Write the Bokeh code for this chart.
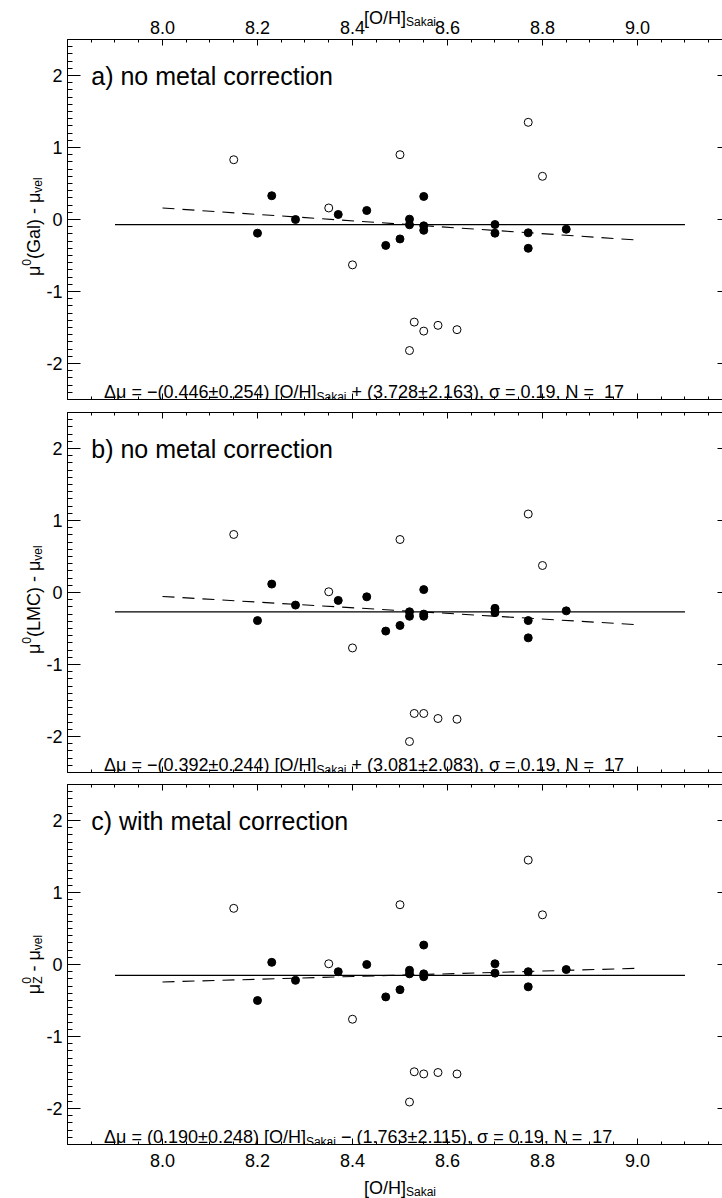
import math
import numpy as np
from bokeh.plotting import figure
from bokeh.models import (Label, LinearAxis, FixedTicker, PrintfTickFormatter, Range1d,
                          CustomJSTickFormatter, GridBox)
from bokeh.embed import file_html
from bokeh.resources import INLINE

# ---------------- data ----------------
x_major_ticks = [8.0, 8.2, 8.4, 8.6, 8.8, 9.0]
y_major_ticks = [-2, -1, 0, 1, 2]

oh_solid = [8.20, 8.23, 8.28, 8.37, 8.43, 8.47, 8.50, 8.52, 8.52, 8.55, 8.55, 8.55,
            8.70, 8.70, 8.77, 8.77, 8.85]
dmu_gal_solid = [-0.19, 0.33, 0.00, 0.07, 0.125, -0.36, -0.27, 0.005, -0.074, 0.32,
                 -0.088, -0.15, -0.07, -0.19, -0.185, -0.40, -0.135]
dmu_lmc_solid = [-0.39, 0.117, -0.175, -0.11, -0.06, -0.536, -0.458, -0.268, -0.33, 0.04,
                 -0.30, -0.33, -0.22, -0.28, -0.39, -0.63, -0.255]
dmu_z_solid = [-0.50, 0.03, -0.22, -0.10, 0.00, -0.45, -0.35, -0.08, -0.13, 0.27,
               -0.13, -0.17, 0.01, -0.12, -0.10, -0.31, -0.07]

oh_open = [8.15, 8.35, 8.40, 8.50, 8.77, 8.80, 8.52, 8.53, 8.55, 8.58, 8.62]
dmu_gal_open = [0.83, 0.16, -0.63, 0.90, 1.35, 0.60, -1.82, -1.425, -1.55, -1.47, -1.53]
dmu_lmc_open = [0.806, 0.01, -0.77, 0.736, 1.09, 0.375, -2.07, -1.68, -1.68, -1.75, -1.76]
dmu_z_open = [0.78, 0.01, -0.76, 0.83, 1.45, 0.69, -1.91, -1.49, -1.52, -1.50, -1.52]

mean_x = [7.9, 9.1]
mean_level = [-0.07, -0.27, -0.15]
fit_x = [8.0, 9.0]
fit_y = [[0.160, -0.286], [-0.055, -0.447], [-0.243, -0.053]]

NB = "\u00a0"
panel_titles = ["a) no metal correction", "b) no metal correction", "c) with metal correction"]
eq_main = ["\u0394\u03bc = \u2212(0.446\u00b10.254) [O/H]",
           "\u0394\u03bc = \u2212(0.392\u00b10.244) [O/H]",
           "\u0394\u03bc = (0.190\u00b10.248) [O/H]"]
eq_sub = "Sakai"
eq_tail = [NB + "+ (3.728\u00b12.163), \u03c3 = 0.19, N =" + NB + NB + "17",
           NB + "+ (3.081\u00b12.083), \u03c3 = 0.19, N =" + NB + NB + "17",
           NB + "\u2212 (1.763\u00b12.115), \u03c3 = 0.19, N =" + NB + NB + "17"]
ytitles = [
    [("\u03bc", "main"), ("0", "sup"), ("(Gal) - \u03bc", "main"), ("vel", "sub")],
    [("\u03bc", "main"), ("0", "sup"), ("(LMC) - \u03bc", "main"), ("vel", "sub")],
    [("\u03bc", "main"), (("0", "Z"), "supsub"), (NB + "- \u03bc", "main"), ("vel", "sub")],
]
ytitle_center = [-0.1, -0.1, 0.0]
xtitle_main = "[O/H]"
xtitle_sub = "Sakai"

# ---------------- styling / layout ----------------
FONT = "Liberation Sans"
X0, X1 = 7.8, 9.179
Y0, Y1 = -2.5, 2.5
PAGE_W, PAGE_H = 722, 1198
LEFT = 67
heights = [405, 373, 420]
tops = [39, 7, 6]
bottoms = [6, 6, 54]
FRAME_H = 360
minor_x = [round(v, 3) for v in np.arange(7.8, 9.2001, 0.05)]
minor_y = [round(v, 2) for v in np.arange(-2.5, 2.5001, 0.1)]

W = {' ': 278, '\u00a0': 278, '0': 556, '1': 556, '2': 556, '3': 556, '4': 556, '5': 556,
     '6': 556, '7': 556, '8': 556, '9': 556, '.': 278, ',': 278, '(': 333, ')': 333,
     '[': 278, ']': 278, '/': 278, '=': 584, '+': 584, '\u2212': 584, '-': 333,
     '\u00b1': 549, '\u0394': 668, '\u03bc': 576, '\u03c3': 617, 'O': 778, 'H': 722,
     'S': 667, 'a': 556, 'k': 500, 'i': 222, 'N': 722, 'G': 778, 'l': 222, 'L': 556,
     'M': 833, 'C': 722, 'v': 500, 'e': 556, 'Z': 611}


def tw(s, size):
    return sum(W.get(c, 556) for c in s) * size / 1000.0


def lab(p, x, y, text, size, xo=0, yo=0, angle=0, align="left"):
    p.add_layout(Label(x=x, y=y, x_offset=xo, y_offset=yo, text=text, angle=angle,
                       text_font=FONT, text_font_size=f"{size}px", text_color="black",
                       text_align=align, text_baseline="alphabetic"))


def blank_labels(ax):
    ax.formatter = CustomJSTickFormatter(code="return ''")
    ax.major_label_text_font_size = "0px"
    ax.major_label_standoff = 0


def x_axis(p, place, labels, standoff=0):
    ax = LinearAxis(ticker=FixedTicker(ticks=x_major_ticks, minor_ticks=minor_x),
                    formatter=PrintfTickFormatter(format="%.1f"))
    ax.major_tick_in = 6
    ax.major_tick_out = 0
    ax.minor_tick_in = 3
    ax.minor_tick_out = 0
    ax.axis_line_color = "black"
    ax.major_tick_line_color = "black"
    ax.minor_tick_line_color = "black"
    if labels:
        ax.major_label_text_font = FONT
        ax.major_label_text_font_size = "18px"
        ax.major_label_text_color = "black"
        ax.major_label_standoff = standoff
    else:
        blank_labels(ax)
    p.add_layout(ax, place)


def y_axes(p):
    ax = LinearAxis(ticker=FixedTicker(ticks=y_major_ticks, minor_ticks=minor_y),
                    formatter=PrintfTickFormatter(format="%d"))
    ax.major_tick_in = 13
    ax.major_tick_out = 0
    ax.minor_tick_in = 5
    ax.minor_tick_out = 0
    ax.axis_line_color = "black"
    ax.major_tick_line_color = "black"
    ax.minor_tick_line_color = "black"
    ax.major_label_text_font = FONT
    ax.major_label_text_font_size = "18px"
    ax.major_label_text_color = "black"
    ax.major_label_standoff = 5
    p.add_layout(ax, "left")
    ar = LinearAxis(ticker=FixedTicker(ticks=y_major_ticks, minor_ticks=[]))
    ar.major_tick_in = 5
    ar.major_tick_out = 0
    ar.minor_tick_in = 0
    ar.minor_tick_out = 0
    ar.axis_line_color = None
    ar.major_tick_line_color = "black"
    blank_labels(ar)
    p.add_layout(ar, "right")


def make_panel(i, ys, yo):
    p = figure(width=PAGE_W, height=heights[i], x_range=Range1d(X0, X1), y_range=Range1d(Y0, Y1),
               output_backend="svg", toolbar_location=None,
               x_axis_location=None, y_axis_location=None,
               min_border_left=LEFT, min_border_right=0,
               min_border_top=tops[i], min_border_bottom=bottoms[i])
    p.grid.visible = False
    p.outline_line_color = None
    p.background_fill_color = "white"
    p.border_fill_color = "white"
    p.frame_align = False

    x_axis(p, "above", i == 0, standoff=6)
    x_axis(p, "below", i == 2, standoff=9)
    y_axes(p)

    p.line(mean_x, [mean_level[i]] * 2, line_color="black", line_width=1.2)
    p.line(fit_x, fit_y[i], line_color="black", line_width=1.1, line_dash="12 8")
    p.scatter(oh_solid, ys, size=8, marker="circle", fill_color="black", line_color="black")
    p.scatter(oh_open, yo, size=8, marker="circle", fill_color="white", line_color="black",
              line_width=1)

    lab(p, 7.85, 2.0, panel_titles[i], 25)
    xo = 0
    lab(p, 7.877, -2.39, eq_main[i], 18, xo=xo)
    xo += tw(eq_main[i], 18)
    lab(p, 7.877, -2.39, eq_sub, 12, xo=xo, yo=-5)
    xo += tw(eq_sub, 12)
    lab(p, 7.877, -2.39, eq_tail[i], 18, xo=xo)
    return p


panels = [make_panel(0, dmu_gal_solid, dmu_gal_open),
          make_panel(1, dmu_lmc_solid, dmu_lmc_open),
          make_panel(2, dmu_z_solid, dmu_z_open)]

# ---------- transparent overlay (page pixel coordinates) for axis titles ----------
ov = figure(width=PAGE_W, height=PAGE_H, x_range=Range1d(0, PAGE_W), y_range=Range1d(PAGE_H, 0),
            output_backend="svg", toolbar_location=None,
            x_axis_location=None, y_axis_location=None,
            min_border_left=0, min_border_right=0, min_border_top=0, min_border_bottom=0)
ov.grid.visible = False
ov.outline_line_color = None
ov.background_fill_color = None
ov.border_fill_color = None
ov.frame_align = False

frame_tops = []
acc = 0
for k in range(3):
    frame_tops.append(acc + tops[k])
    acc += heights[k]
px_per_x = (PAGE_W - LEFT) / (X1 - X0)
px_per_y = FRAME_H / (Y1 - Y0)


def page_y(k, yv):
    return frame_tops[k] + (Y1 - yv) * px_per_y


# x titles
xc = LEFT + (8.5 - X0) * px_per_x
xw = tw(xtitle_main, 18) + tw(xtitle_sub, 12)
for base_main, base_sub in [(17, 21), (1187, 1191)]:
    lab(ov, xc - xw / 2, base_main, xtitle_main, 18)
    lab(ov, xc - xw / 2 + tw(xtitle_main, 18), base_sub, xtitle_sub, 12)

# rotated y titles
ang = math.pi / 2
base_x = 33
for k in range(3):
    pieces = ytitles[k]
    total = 0
    for t, kind in pieces:
        if kind == "main":
            total += tw(t, 18)
        elif kind == "supsub":
            total += max(tw(t[0], 12), tw(t[1], 12))
        else:
            total += tw(t, 12)
    y_start = page_y(k, ytitle_center[k]) + total / 2
    cum = 0
    for t, kind in pieces:
        if kind == "main":
            lab(ov, base_x, y_start - cum, t, 18, angle=ang)
            cum += tw(t, 18)
        elif kind == "sup":
            lab(ov, base_x - 7, y_start - cum, t, 12, angle=ang)
            cum += tw(t, 12)
        elif kind == "sub":
            lab(ov, base_x + 4, y_start - cum, t, 12, angle=ang)
            cum += tw(t, 12)
        else:
            lab(ov, base_x - 7, y_start - cum, t[0], 12, angle=ang)
            lab(ov, base_x + 4, y_start - cum, t[1], 12, angle=ang)
            cum += max(tw(t[0], 12), tw(t[1], 12))

layout = GridBox(children=[(panels[0], 0, 0), (panels[1], 1, 0), (panels[2], 2, 0),
                           (ov, 0, 0, 3, 1)], spacing=0)
open("out.html", "w").write(file_html(layout, INLINE))
